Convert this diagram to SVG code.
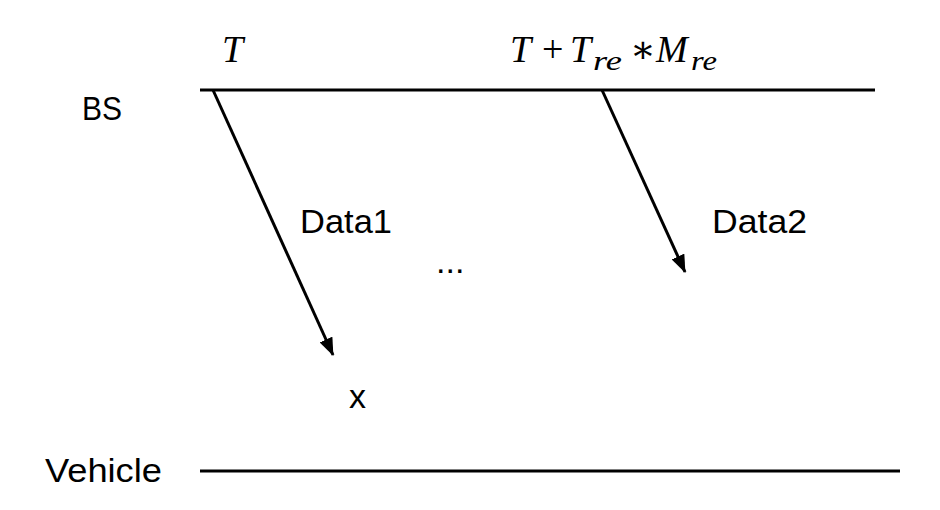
<svg xmlns="http://www.w3.org/2000/svg" width="940" height="510" viewBox="0 0 940 510">
<style>
.lbl{font-family:"Liberation Sans","Noto Sans",Arial,sans-serif;font-size:34px;fill:#000}
.m{font-family:"Liberation Serif","DejaVu Serif",serif;font-size:38px;fill:#000}
.i{font-style:italic}
.sub{font-family:"Liberation Serif","DejaVu Serif",serif;font-size:27px;font-style:italic;fill:#000}
.ln{stroke:#000;stroke-width:3;fill:none}
.arr{stroke:#000;stroke-width:3;fill:none;marker-end:url(#ah)}
</style>
<defs>
<marker id="ah" markerUnits="userSpaceOnUse" markerWidth="18" markerHeight="14" viewBox="0 0 18 14" refX="17" refY="7" orient="auto">
<path d="M0,0 L18,7 L0,14 Z" fill="#000"/>
</marker>
</defs>
<rect width="940" height="510" fill="#fff"/>
<g id="bs">
<text class="lbl" x="82" y="120" textLength="40" lengthAdjust="spacingAndGlyphs">BS</text>
<line class="ln" x1="200" y1="90" x2="875" y2="90"/>
</g>
<g id="vehicle">
<text class="lbl" x="45" y="482" textLength="117" lengthAdjust="spacingAndGlyphs">Vehicle</text>
<line class="ln" x1="200" y1="471" x2="900" y2="471"/>
</g>
<g id="time-labels">
<text class="m i" x="222" y="62">T</text>
<text class="m i" x="510" y="62">T</text>
<text class="m" x="542" y="62">+</text>
<text class="m i" x="570" y="62">T</text>
<text class="sub" x="593" y="70" textLength="29" lengthAdjust="spacingAndGlyphs">re</text>
<text class="m" x="630" y="62">∗</text>
<text class="m i" x="656" y="62">M</text>
<text class="sub" x="691" y="70" textLength="26" lengthAdjust="spacingAndGlyphs">re</text>
</g>
<g id="connectors">
<line class="arr" x1="213" y1="90" x2="333" y2="355"/>
<line class="arr" x1="602" y1="90" x2="685" y2="272"/>
</g>
<g id="labels">
<text class="lbl" x="300" y="233" textLength="92" lengthAdjust="spacingAndGlyphs">Data1</text>
<text class="lbl" x="712" y="233" textLength="95" lengthAdjust="spacingAndGlyphs">Data2</text>
<text class="lbl" x="436" y="273" font-size="26">...</text>
<text class="lbl" x="349" y="408" font-size="28">x</text>
</g>
</svg>
